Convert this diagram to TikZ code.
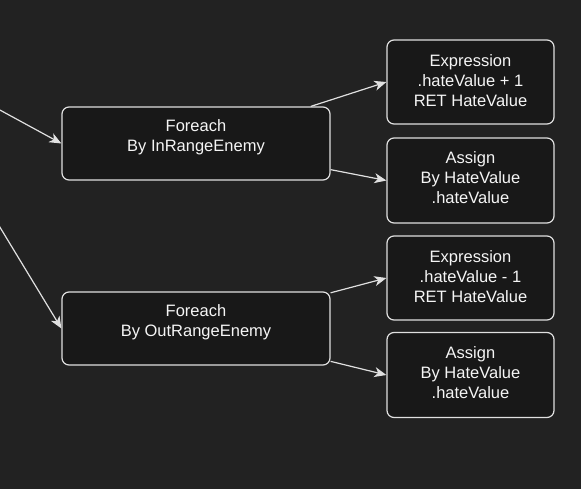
\documentclass[tikz,border=0pt]{standalone}
\usepackage{fontspec}
\setmainfont{Liberation Sans}
\usetikzlibrary{arrows.meta}
\definecolor{bgc}{HTML}{222222}
\definecolor{boxfill}{HTML}{181818}
\definecolor{linec}{HTML}{E0E0E0}
\definecolor{txtc}{HTML}{F5F5F5}
\begin{document}
\begin{tikzpicture}[x=1pt,y=-1pt,
  box/.style={draw=linec, line width=1.2pt, fill=boxfill, rounded corners=7pt, inner sep=0pt},
  txt/.style={text=txtc, align=center, font=\fontsize{16.5}{20}\selectfont, inner sep=0pt},
  conn/.style={draw=linec, line width=1.2pt, -{Stealth[length=12pt,width=10pt,inset=3.5pt]}}]
\fill[bgc] (0,0) rectangle (581,489);
\useasboundingbox (0,0) rectangle (581,489);
% Foreach nodes
\node[box, minimum width=268pt, minimum height=73pt] (f1) at (196,143.5) {};
\node[txt] (f1t) at (196,137) {Foreach\\By InRangeEnemy};
\node[box, minimum width=268pt, minimum height=73pt] (f2) at (196,328.5) {};
\node[txt] (f2t) at (196,322) {Foreach\\By OutRangeEnemy};
% right nodes
\node[box, minimum width=167pt, minimum height=84pt] (e1) at (470.5,82) {};
\node[txt] (e1t) at (470.5,80.5) {Expression\\.hateValue + 1\\RET HateValue};
\node[box, minimum width=167pt, minimum height=85pt] (a1) at (470.5,180.5) {};
\node[txt] (a1t) at (470.5,178) {Assign\\By HateValue\\.hateValue};
\node[box, minimum width=167pt, minimum height=84pt] (e2) at (470.5,278) {};
\node[txt] (e2t) at (470.5,276.5) {Expression\\.hateValue - 1\\RET HateValue};
\node[box, minimum width=167pt, minimum height=85pt] (a2) at (470.5,375) {};
\node[txt] (a2t) at (470.5,373) {Assign\\By HateValue\\.hateValue};
% incoming free ends
\coordinate (in1) at (-2,109);
\coordinate (in2) at (-2,224);
\draw[conn] (in1) -- (f1.west);
\draw[conn] (in2) -- (f2.west);
% edges
\draw[conn] (f1) -- (e1.west);
\draw[conn] (f1) -- (a1.west);
\draw[conn] (f2) -- (e2.west);
\draw[conn] (f2) -- (a2.west);
\end{tikzpicture}
\end{document}
